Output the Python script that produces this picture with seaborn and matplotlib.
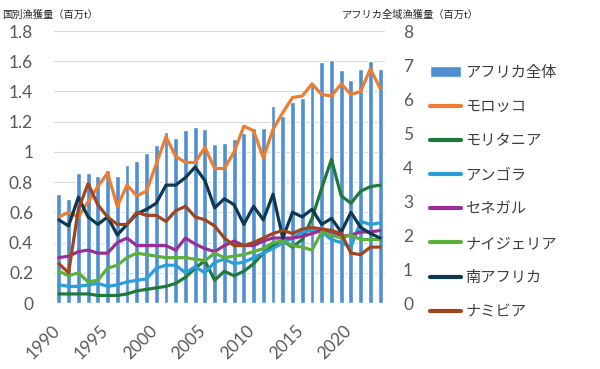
import numpy as np
import pandas as pd
import matplotlib
matplotlib.use("Agg")
import matplotlib.pyplot as plt
import matplotlib.transforms as mtransforms
from matplotlib.patches import Patch
from matplotlib.lines import Line2D
import seaborn as sns

# --- data ---
years = list(range(1990, 2024))

# Africa total, right axis (million t)
africa = [3.20, 3.07, 3.83, 3.81, 3.75, 3.91, 3.74, 4.06, 4.18, 4.40,
          4.65, 5.02, 4.86, 5.09, 5.19, 5.11, 4.67, 4.70, 4.82, 4.99,
          5.16, 5.15, 5.79, 5.50, 5.92, 6.02, 6.51, 7.08, 7.15, 6.85,
          6.56, 6.89, 7.13, 6.88]

# country catches, left axis (million t)
morocco = [0.57, 0.60, 0.57, 0.67, 0.77, 0.86, 0.64, 0.78, 0.71, 0.74,
           0.92, 1.10, 0.97, 0.93, 0.93, 1.03, 0.89, 0.89, 1.00, 1.17,
           1.14, 0.96, 1.15, 1.26, 1.36, 1.37, 1.45, 1.38, 1.37, 1.45,
           1.38, 1.40, 1.55, 1.42]
mauritania = [0.06, 0.06, 0.06, 0.06, 0.05, 0.05, 0.05, 0.06, 0.08, 0.09,
              0.10, 0.11, 0.13, 0.17, 0.23, 0.28, 0.15, 0.21, 0.18, 0.21,
              0.26, 0.33, 0.38, 0.41, 0.37, 0.42, 0.56, 0.76, 0.95, 0.71,
              0.66, 0.74, 0.77, 0.78]
angola = [0.12, 0.11, 0.11, 0.12, 0.13, 0.11, 0.12, 0.14, 0.15, 0.16,
          0.23, 0.25, 0.25, 0.20, 0.24, 0.20, 0.27, 0.29, 0.26, 0.27,
          0.30, 0.33, 0.36, 0.40, 0.43, 0.47, 0.48, 0.47, 0.42, 0.40,
          0.37, 0.54, 0.52, 0.53]
senegal = [0.30, 0.31, 0.34, 0.35, 0.33, 0.33, 0.40, 0.43, 0.38, 0.38,
           0.38, 0.38, 0.35, 0.43, 0.39, 0.36, 0.34, 0.38, 0.41, 0.38,
           0.38, 0.41, 0.43, 0.43, 0.43, 0.44, 0.46, 0.48, 0.47, 0.44,
           0.45, 0.47, 0.47, 0.48]
nigeria = [0.21, 0.18, 0.20, 0.14, 0.15, 0.23, 0.25, 0.30, 0.33, 0.32,
           0.31, 0.30, 0.30, 0.30, 0.29, 0.28, 0.33, 0.30, 0.31, 0.32,
           0.34, 0.36, 0.40, 0.41, 0.38, 0.37, 0.35, 0.47, 0.45, 0.43,
           0.45, 0.42, 0.42, 0.42]
south_africa = [0.55, 0.51, 0.70, 0.57, 0.52, 0.57, 0.45, 0.52, 0.59, 0.62,
                0.66, 0.78, 0.78, 0.83, 0.90, 0.81, 0.63, 0.69, 0.65, 0.52,
                0.64, 0.55, 0.72, 0.43, 0.60, 0.57, 0.62, 0.52, 0.56, 0.47,
                0.60, 0.50, 0.46, 0.43]
namibia = [0.26, 0.20, 0.62, 0.79, 0.65, 0.57, 0.52, 0.52, 0.60, 0.58,
           0.58, 0.54, 0.61, 0.64, 0.57, 0.55, 0.51, 0.43, 0.38, 0.38,
           0.40, 0.43, 0.46, 0.48, 0.46, 0.49, 0.50, 0.49, 0.48, 0.46,
           0.33, 0.32, 0.37, 0.37]

countries = ["モロッコ", "モリタニア", "アンゴラ", "セネガル",
             "ナイジェリア", "南アフリカ", "ナミビア"]
series = [morocco, mauritania, angola, senegal, nigeria, south_africa, namibia]
colors = ["#ed7d31", "#1e7a3a", "#2a9fd6", "#9a2e96",
          "#5cae3d", "#0d3850", "#a0461f"]
bar_color = "#4f8fd2"
total_label = "アフリカ全体"

df = pd.DataFrame({
    "year": years * len(countries),
    "catch": sum(series, []),
    "country": [c for c in countries for _ in years],
})

# --- style ---
sns.set_theme(style="white")
plt.rcParams["font.family"] = ["Lato", "Noto Sans CJK JP", "DejaVu Sans"]
tick_color = "#595959"

fig = plt.figure(figsize=(6, 3.69), dpi=100)
rect = [54 / 600, 1 - 303 / 369, (385 - 54) / 600, (303 - 31) / 369]

# background axes only for the gridlines (left scale)
gax = fig.add_axes(rect)
gax.set_xlim(1989.5, 2023.5)
gax.set_ylim(0, 1.8)
gax.set_yticks(np.arange(0, 1.81, 0.2))
gax.grid(axis="y", color="#d9d9d9", lw=0.8)
gax.tick_params(left=False, bottom=False, labelleft=False, labelbottom=False)

# bars: Africa total on the right axis
ax2 = fig.add_axes(rect)
ax2.patch.set_visible(False)
sns.barplot(x=years, y=africa, native_scale=True, orient="x", width=0.5,
            color=bar_color, saturation=1, errorbar=None, ax=ax2)
ax2.set_xlim(1989.5, 2023.5)
ax2.set_ylim(0, 8)
ax2.set_yticks(range(0, 9))
ax2.yaxis.tick_right()
ax2.tick_params(axis="y", length=0, pad=13, labelsize=12.5, labelcolor=tick_color)
ax2.tick_params(axis="x", bottom=False, labelbottom=False)
ax2.set_xlabel("")
ax2.set_ylabel("")

# lines: countries on the left axis
ax = fig.add_axes(rect)
ax.patch.set_visible(False)
sns.lineplot(data=df, x="year", y="catch", hue="country", hue_order=countries,
             palette=colors, lw=2.3, legend=False, ax=ax)
ax.set_xlim(1989.5, 2023.5)
ax.set_ylim(0, 1.8)
ax.set_yticks(np.arange(0, 1.81, 0.2))
ax.yaxis.set_major_formatter(plt.FuncFormatter(lambda v, p: f"{v:g}"))
ax.set_xticks(range(1990, 2021, 5))
ax.tick_params(axis="y", length=0, pad=15, labelsize=12.5, labelcolor=tick_color)
ax.tick_params(axis="x", length=0, pad=14, labelsize=12.5, labelcolor=tick_color)
offset = mtransforms.ScaledTranslation(0.04, 0, fig.dpi_scale_trans)
for lbl in ax.get_xticklabels():
    lbl.set_rotation(45)
    lbl.set_ha("right")
    lbl.set_transform(lbl.get_transform() + offset)
ax.set_xlabel("")
ax.set_ylabel("")

for a in (gax, ax2, ax):
    for s in a.spines.values():
        s.set_visible(False)

# axis titles
fig.text(2 / 600, 1 - 15 / 369, "国別漁獲量（百万t）", fontsize=7.4,
         ha="left", va="center", color="#262626")
fig.text(342 / 600, 1 - 15 / 369, "アフリカ全域漁獲量（百万t）", fontsize=7.4,
         ha="left", va="center", color="#262626")

# legend
handles = [Patch(facecolor=bar_color)] + [Line2D([], [], color=c, lw=3) for c in colors]
labels = [total_label] + countries
fig.legend(handles, labels, loc="upper left", bbox_to_anchor=(430 / 600, 1 - 66 / 369),
           frameon=False, fontsize=11, handlelength=2.0, handletextpad=0.3,
           labelspacing=1.32, borderaxespad=0, borderpad=0, labelcolor="#404040")

fig.savefig("out.png", dpi=100)
